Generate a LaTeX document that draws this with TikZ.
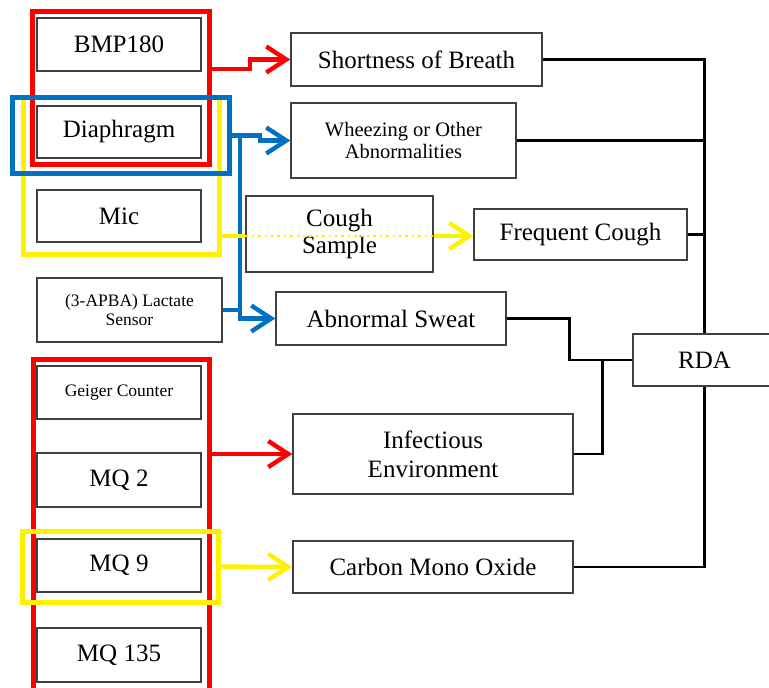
\documentclass[tikz,border=0pt]{standalone}
\usepackage{fontspec}
\setmainfont{Liberation Serif}
\usetikzlibrary{arrows.meta}
\definecolor{offblue}{RGB}{0,112,192}
\begin{document}
\begin{tikzpicture}[x=0.5pt,y=-0.5pt,
		box/.style={draw=black!75,line width=0.7pt,fill=white,inner sep=0pt,align=center,font=\fontsize{12.5}{14}\selectfont},
		small/.style={font=\fontsize{8.75}{9.5}\selectfont},
		grp/.style={draw=#1,line width=2.5pt,inner sep=0pt},
		link/.style={line width=1.3pt},
		tip/.style={draw=#1,line width=2.2pt,-{Straight Barb[length=10pt,width=13pt]}}]
		\useasboundingbox (0,0) rectangle (769,687);
		\clip (0,0) rectangle (769,687);
		\node[grp=yellow,minimum width=98pt,minimum height=78.5pt](micgrp) at (121.5,176) {};
		\node[grp=red,minimum width=88.5pt,minimum height=76.5pt](bmpgrp) at (121,88) {};
		\node[grp=offblue,minimum width=108.5pt,minimum height=38pt](diagrp) at (121,135.5) {};
		\node[grp=red,minimum width=88pt,minimum height=165.5pt](gasgrp) at (121,524.5) {};
		\node[grp=yellow,minimum width=98pt,minimum height=35.5pt](mqgrp) at (120,566.5) {};
		\node[box,minimum width=82pt,minimum height=26.5pt](bmp) at (119,44.5) {BMP180};
		\node[box,minimum width=82pt,minimum height=26pt](diaph) at (119,132) {Diaphragm};
		\node[box,minimum width=82pt,minimum height=26pt](mic) at (119,216) {Mic};
		\node[box,small,minimum width=92.5pt,minimum height=32pt](lact) at (129.5,310) {(3-APBA) Lactate\\Sensor};
		\node[box,small,minimum width=82pt,minimum height=26.5pt](geiger) at (119,392.5) {Geiger Counter};
		\node[box,minimum width=82pt,minimum height=27pt](mqtwo) at (119,480) {MQ 2};
		\node[box,minimum width=82pt,minimum height=26.5pt](mqnine) at (119,565.5) {MQ 9};
		\node[box,minimum width=82pt,minimum height=27pt](mqlast) at (119,655) {MQ 135};
		\node[box,minimum width=125.5pt,minimum height=26.5pt](sob) at (416.5,59.5) {Shortness of Breath};
		\node[box,font=\fontsize{10.25}{11}\selectfont,minimum width=112.5pt,minimum height=37.5pt](whz) at (403.5,140.5) {Wheezing or Other\\Abnormalities};
		\node[box,font=\fontsize{12.5}{13.5}\selectfont,minimum width=93.5pt,minimum height=38pt](cgh) at (339.5,234) {Cough\\Sample};
		\node[box,minimum width=106.5pt,minimum height=25.5pt](frq) at (580.5,234.5) {Frequent Cough};
		\node[box,minimum width=115pt,minimum height=26.5pt](swt) at (391,318.5) {Abnormal Sweat};
		\node[box,minimum width=71.5pt,minimum height=26pt](rda) at (704.5,360) {RDA};
		\node[box,font=\fontsize{12.5}{14.5}\selectfont,minimum width=140pt,minimum height=40pt](inf) at (433,454) {Infectious\\Environment};
		\node[box,minimum width=140pt,minimum height=26pt](co) at (433,567) {Carbon Mono Oxide};
		\coordinate (bj) at ([xshift=4pt]diagrp.east);
		\coordinate (ys) at ([yshift=-30pt]micgrp.east);
		\draw[tip=red] ([yshift=9.5pt]bmpgrp.east) -- ++(38,0) |- (sob.west);
		\draw[tip=offblue] (diagrp.east) -- ++(28,0) |- (whz.west);
		\draw[tip=offblue] (bj) |- (swt.west);
		\draw[offblue,line width=2.2pt] (lact.east) -- (lact.east -| bj);
		\draw[yellow,line width=2.2pt] (ys) -- (ys -| cgh.west);
		\draw[yellow,line width=1.2pt,dotted] (ys -| cgh.west) -- (ys -| cgh.east);
		\draw[tip=yellow] (ys -| cgh.east) -- (ys -| frq.west);
		\draw[tip=red] (inf.west -| gasgrp.east) -- (inf.west);
		\draw[tip=yellow] (mqgrp.east) -- (co.west);
		\draw[link] (sob.east) -| (rda.north);
		\draw[link] (whz.east) -- (whz.east -| rda.north);
		\draw[link] (frq.east) -- (frq.east -| rda.north);
		\draw[link] (co.east) -| (rda.south);
		\draw[link] (swt.east) -- ++(63,0) |- (rda.west);
		\draw[link] (inf.east) -- ++(29,0) |- (rda.west);
\end{tikzpicture}
\end{document}
